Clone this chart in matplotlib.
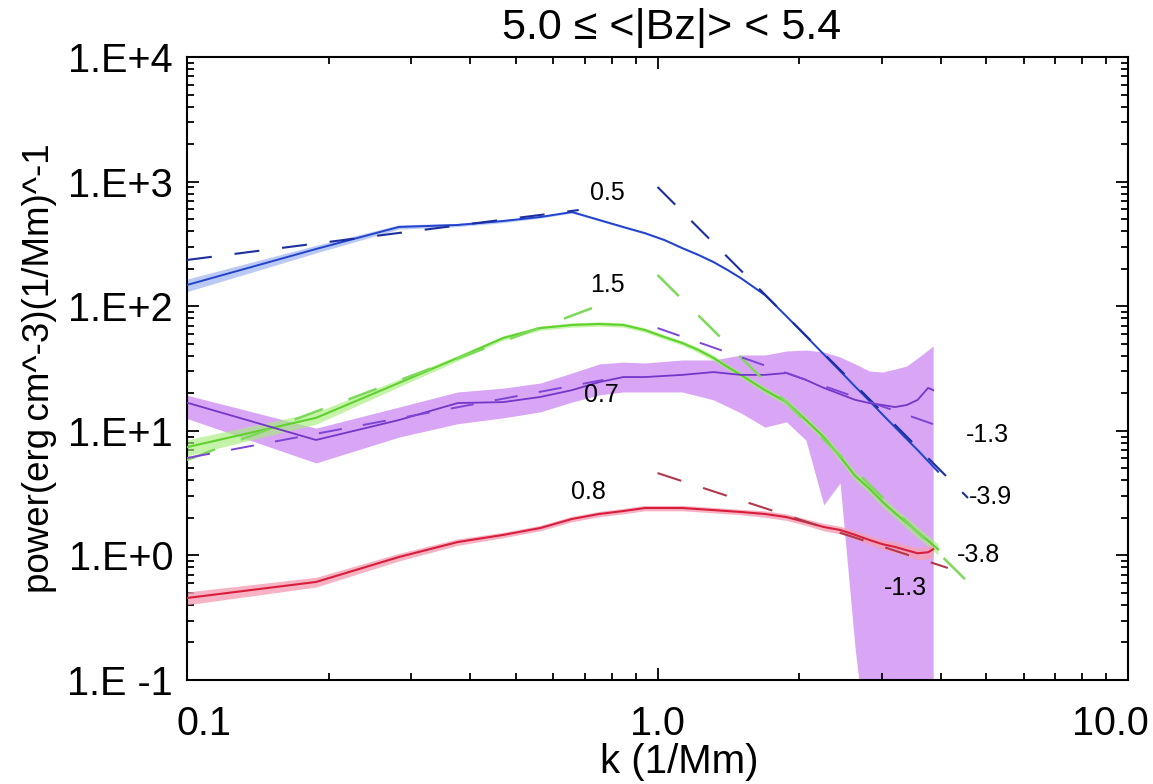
import matplotlib
matplotlib.use('Agg')
import matplotlib.pyplot as plt
import matplotlib.transforms as mtransforms
from matplotlib.ticker import FixedLocator, NullFormatter, FixedFormatter

plt.rcParams['font.family'] = ['Liberation Sans', 'DejaVu Sans']

# ---------------- data ----------------
k_bg = [0.094, 0.188, 0.282, 0.376, 0.47, 0.564, 0.658, 0.752, 0.846, 0.94,
        1.034, 1.128, 1.222, 1.316, 1.41, 1.504, 1.692, 1.88, 2.068, 2.256,
        2.444, 2.632, 2.82, 3.008, 3.196, 3.384, 3.572, 3.76, 3.948]
k_pr = [0.094, 0.188, 0.282, 0.376, 0.47, 0.564, 0.658, 0.752, 0.846, 0.94,
        1.128, 1.316, 1.504, 1.692, 1.88, 2.068, 2.256, 2.444, 2.632, 2.82,
        3.008, 3.196, 3.384, 3.572, 3.76, 3.854]

blue = [138.7, 287.7, 432.5, 448.7, 483, 520, 570, 492, 432, 386,
        340, 293, 258, 226, 195, 168, 123, 83, 57.5, 41.1,
        30.2, 22.6, 17.4, 13.5, 10.7, 8.6, 7.0, 5.7, 4.7]
blue_err = [0.12, 0.07, 0.04, 0.03, 0.03, 0.02, 0.02, 0.02, 0.02, 0.02,
            0.02, 0.02, 0.02, 0.02, 0.02, 0.02, 0.02, 0.02, 0.02, 0.02,
            0.02, 0.02, 0.02, 0.02, 0.02, 0.03, 0.03, 0.03, 0.03]

green = [7.01, 12.7, 24.2, 38.4, 55.6, 66.8, 70.7, 72.0, 70.7, 64.4,
         56.6, 50.7, 44.5, 38.4, 32.5, 28.1, 21.2, 17.0, 12.2, 8.9,
         6.2, 4.34, 3.44, 2.69, 2.19, 1.83, 1.54, 1.31, 1.12]
green_err = [0.15, 0.11, 0.07, 0.05, 0.04, 0.04, 0.04, 0.04, 0.04, 0.04,
             0.04, 0.04, 0.05, 0.05, 0.05, 0.05, 0.06, 0.06, 0.07, 0.07,
             0.08, 0.08, 0.08, 0.09, 0.09, 0.10, 0.10, 0.10, 0.10]

purple = [17.99, 8.44, 12.2, 16.7, 17.0, 18.7, 21.2, 24.6, 27.0, 27.0,
          28.1, 29.6, 28.1, 28.1, 29.1, 25.6, 22.1, 19.7, 17.7, 16.7,
          16.1, 15.5, 16.1, 17.7, 22.1, 21.2]
purple_hi = [20.5, 10.5, 15.5, 20.5, 22.0, 24.2, 29.1, 34.4, 35.6, 35.0,
             37.0, 37.0, 40.6, 40.6, 43.7, 44.5, 42.9, 39.1, 34.4, 30.2,
             29.6, 31.3, 33.1, 38.4, 44.5, 48.0]
purple_lo = [13.6, 5.52, 8.9, 11.4, 12.7, 14.2, 17.0, 19.4, 20.5, 20.5,
             20.5, 17.7, 13.9, 10.7, 11.8, 8.4, 2.54, 3.81, 0.174, 0.02,
             0.02, 0.02, 0.02, 0.02, 0.02, 0.02]

red = [0.442, 0.612, 0.970, 1.28, 1.46, 1.66, 1.96, 2.15, 2.27, 2.40,
       2.40, 2.31, 2.23, 2.15, 2.03, 1.85, 1.69, 1.60, 1.46, 1.33,
       1.23, 1.17, 1.10, 1.04, 1.06, 1.12]
red_err = [0.12, 0.09, 0.07, 0.06, 0.05, 0.05, 0.05, 0.05, 0.05, 0.05,
           0.05, 0.05, 0.05, 0.06, 0.06, 0.06, 0.07, 0.07, 0.08, 0.08,
           0.09, 0.10, 0.10, 0.11, 0.12, 0.12]

# power-law fit segments (endpoints k, power)
blue_fit_lo_k, blue_fit_lo_p = [0.1, 0.68], [235, 591]
blue_fit_hi_k, blue_fit_hi_p = [1.0, 4.57], [906, 2.89]
green_fit_lo_k, green_fit_lo_p = [0.1, 0.775], [5.84, 106]
green_fit_hi_k, green_fit_hi_p = [1.0, 4.52], [178, 0.635]
purple_fit_lo_k, purple_fit_lo_p = [0.1, 0.767], [6.05, 25.6]
purple_fit_hi_k, purple_fit_hi_p = [1.0, 4.2], [66.8, 10.1]
red_fit_hi_k, red_fit_hi_p = [1.0, 4.14], [4.58, 0.793]

slope_labels = ['0.5', '1.5', '0.7', '0.8', '-1.3', '-3.9', '-3.8', '-1.3']
slope_label_k = [0.783, 0.783, 0.76, 0.713, 5.03, 5.11, 4.80, 3.37]
slope_label_p = [809, 148, 19.4, 3.23, 9.25, 2.94, 1.01, 0.547]

x_ticks = [0.1, 1.0, 10.0]
x_ticklabels = ['0.1', '1.0', '10.0']
y_ticks = [0.1, 1, 10, 100, 1000, 10000]
y_ticklabels = ['1.E -1', '1.E+0', '1.E+1', '1.E+2', '1.E+3', '1.E+4']

title = '5.0 \u2264 <|Bz|> < 5.4'
xlabel = 'k (1/Mm)'
ylabel = 'power(erg\u2009cm^-3)(1/Mm)^-1'

# ---------------- figure ----------------
W, H = 1153, 784
fig = plt.figure(figsize=(W / 100, H / 100), dpi=100)
ax = fig.add_axes([187 / W, 1 - 680 / H, (1128 - 187) / W, (680 - 57) / H])
ax.set_xscale('log')
ax.set_yscale('log')
ax.set_xlim(0.1, 10)
ax.set_ylim(0.1, 1e4)

def band(y, e):
    return [v * (1 - f) for v, f in zip(y, e)], [v * (1 + f) for v, f in zip(y, e)]

# purple band
ax.fill_between(k_pr, purple_lo, purple_hi, color='#d9a6f5', lw=0, zorder=1)

# green
glo, ghi = band(green, green_err)
ax.fill_between(k_bg, glo, ghi, color='#a6ee7c', alpha=0.65, lw=0, zorder=2)
ax.plot(k_bg, green, color='#5fd22e', lw=1.5, zorder=3)

ax.plot(k_pr, purple, color='#7435c9', lw=1.3, zorder=4)

# blue
blo, bhi = band(blue, blue_err)
ax.fill_between(k_bg, blo, bhi, color='#9fb4f0', alpha=0.7, lw=0, zorder=2)
ax.plot(k_bg, blue, color='#2244cc', lw=1.4, zorder=4)

# red
rlo, rhi = band(red, red_err)
ax.fill_between(k_pr, rlo, rhi, color='#f5a0b4', alpha=0.8, lw=0, zorder=2)
ax.plot(k_pr, red, color='#d81e3c', lw=1.5, zorder=4)

# dashed fits
dash = (12, 11)
ax.plot(blue_fit_lo_k, blue_fit_lo_p, color='#1d2f9e', lw=1.5, dashes=dash, zorder=5)
ax.plot(blue_fit_hi_k, blue_fit_hi_p, color='#1d2f9e', lw=1.5, dashes=dash, zorder=5)
ax.plot(green_fit_lo_k, green_fit_lo_p, color='#7cd95a', lw=1.8, dashes=dash, zorder=5)
ax.plot(green_fit_hi_k, green_fit_hi_p, color='#7cd95a', lw=1.8, dashes=dash, zorder=5)
ax.plot(purple_fit_lo_k, purple_fit_lo_p, color='#7d45d6', lw=1.4, dashes=dash, zorder=5)
ax.plot(purple_fit_hi_k, purple_fit_hi_p, color='#7d45d6', lw=1.4, dashes=dash, zorder=5)
ax.plot(red_fit_hi_k, red_fit_hi_p, color='#b1384a', lw=1.5, dashes=dash, zorder=5)

for s, xk, yp in zip(slope_labels, slope_label_k, slope_label_p):
    ax.text(xk, yp, s, fontsize=18, ha='center', va='center', zorder=6)

# axes styling
for sp in ax.spines.values():
    sp.set_linewidth(1.5)
ax.xaxis.set_major_locator(FixedLocator(x_ticks))
ax.xaxis.set_major_formatter(FixedFormatter(x_ticklabels))
ax.yaxis.set_major_locator(FixedLocator(y_ticks))
ax.yaxis.set_major_formatter(FixedFormatter(y_ticklabels))
xminor = [m * d for d in (0.1, 1.0) for m in range(2, 10)]
yminor = [m * d for d in (0.1, 1, 10, 100, 1000) for m in range(2, 10)]
ax.xaxis.set_minor_locator(FixedLocator(xminor))
ax.yaxis.set_minor_locator(FixedLocator(yminor))
ax.xaxis.set_minor_formatter(NullFormatter())
ax.yaxis.set_minor_formatter(NullFormatter())
ax.tick_params(which='both', direction='in', top=True, right=True, width=1.3)
ax.tick_params(which='major', length=8.5)
ax.tick_params(which='minor', length=5)
ax.tick_params(axis='y', which='major', labelsize=28.5, pad=10)
ax.tick_params(axis='x', which='major', labelsize=28.5, pad=18)

fig.canvas.draw()
xl = ax.get_xticklabels()
xl[0].set_transform(xl[0].get_transform() + mtransforms.ScaledTranslation(0.17, 0, fig.dpi_scale_trans))
xl[-1].set_transform(xl[-1].get_transform() + mtransforms.ScaledTranslation(-0.18, 0, fig.dpi_scale_trans))

fig.text(672 / W, 1 - 28 / H, title, fontsize=31, ha='center', va='center')
fig.text(679 / W, 1 - 762 / H, xlabel, fontsize=29, ha='center', va='center')
fig.text(40 / W, 1 - 368 / H, ylabel, fontsize=26.5, ha='center', va='center', rotation=90)

fig.savefig('out.png', dpi=100, facecolor='white')
